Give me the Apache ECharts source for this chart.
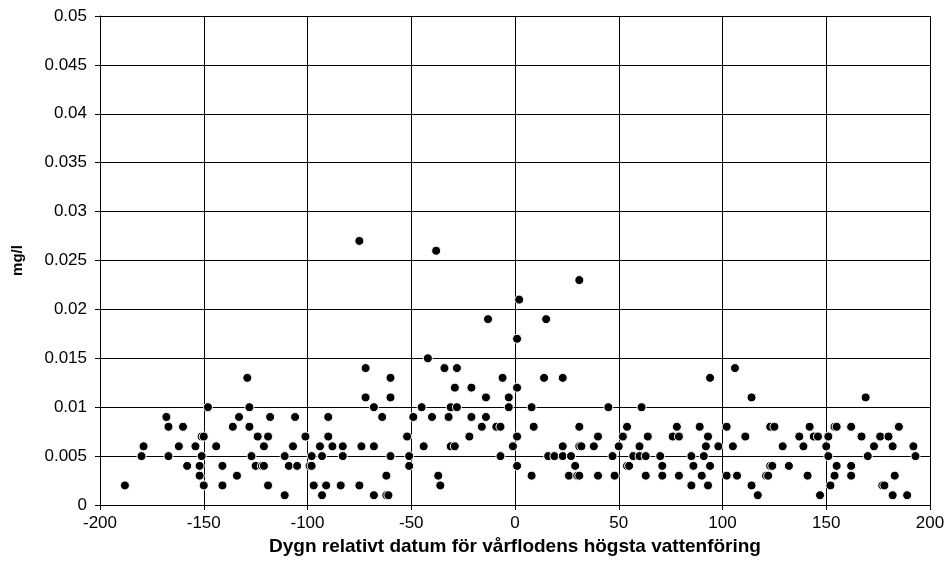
<!DOCTYPE html>
<html>
<head>
<meta charset="utf-8">
<script src="https://cdn.jsdelivr.net/npm/echarts@6/dist/echarts.min.js"></script>
<style>html,body{margin:0;padding:0;background:#fff}#c{width:950px;height:578px}</style>
</head>
<body>
<div id="c"></div>
<script>
const xTitle = 'Dygn relativt datum för vårflodens högsta vattenföring';
const yTitle = 'mg/l';
const days = [
-188,-180,-179,-168,-167,-167,-160,-162,-158,-154,-152,-152,-151,-150,-151,-150,-148,-144,-141,-141,
-134,-136,-133,-129,-128,-128,-127,-124,-125,-122,-121,-121,-119,-118,-119,-111,-111,-109,-107,-106,
-105,-101,
-99,-98,-98,-97,-94,-93,-93,-90,-90,-91,-88,-83,-83,-84,-75,-75,-74,-72,-72,-68,-68,-68,
-64,-62,-62,-61,-60,-60,-60,-52,-51,-51,-49,-45,-44,-42,-40,-38,-37,-36,-34,-32,-31,-28,
-31,-29,-29,-28,-22,-21,-21,-16,-14,-14,-13,-9,-7,-7,-6,-3,-3,-1,1,1,1,1,2,
14,15,23,31,8,9,8,16,19,23,23,27,26,29,30,31,31,31,32,38,40,40,45,47,48,50,52,54,54,55,
57,60,63,60,61,64,63,70,71,71,76,79,78,79,85,86,85,89,90,91,92,93,94,94,93,98,102,102,
106,114,169,105,111,107,114,117,121,122,123,124,123,125,129,132,137,139,141,142,144,146,147,150,
151,151,154,155,155,154,152,162,162,162,167,170,173,176,180,177,178,182,183,182,185,189,192,193
];
const conc = [
0.002,0.005,0.006,0.009,0.008,0.005,0.008,0.006,0.004,0.006,0.004,0.003,0.007,0.007,0.005,0.002,0.010,0.006,0.004,0.002,
0.003,0.008,0.009,0.013,0.010,0.008,0.005,0.007,0.004,0.004,0.004,0.006,0.007,0.009,0.002,0.005,0.001,0.004,0.006,0.009,
0.004,0.007,
0.004,0.004,0.005,0.002,0.006,0.005,0.001,0.009,0.007,0.002,0.006,0.006,0.005,0.002,0.027,0.002,0.006,0.014,0.011,0.010,0.006,0.001,
0.009,0.003,0.001,0.001,0.013,0.011,0.005,0.007,0.005,0.004,0.009,0.010,0.006,0.015,0.009,0.026,0.003,0.002,0.014,0.009,0.010,0.010,
0.006,0.006,0.012,0.014,0.007,0.012,0.009,0.008,0.011,0.009,0.019,0.008,0.008,0.005,0.013,0.011,0.010,0.006,0.007,0.004,0.012,0.017,0.021,
0.013,0.019,0.013,0.023,0.010,0.008,0.003,0.005,0.005,0.006,0.005,0.005,0.003,0.004,0.003,0.003,0.008,0.006,0.006,0.006,0.007,0.003,0.010,0.005,0.003,0.006,0.007,0.008,0.004,0.004,
0.005,0.005,0.005,0.006,0.010,0.007,0.003,0.005,0.004,0.003,0.007,0.007,0.008,0.003,0.005,0.004,0.002,0.008,0.003,0.005,0.006,0.007,0.013,0.004,0.002,0.006,0.008,0.003,
0.014,0.011,0.011,0.006,0.007,0.003,0.002,0.001,0.003,0.003,0.004,0.004,0.008,0.008,0.006,0.004,0.007,0.006,0.003,0.008,0.007,0.007,0.001,0.006,
0.007,0.005,0.008,0.008,0.004,0.003,0.002,0.008,0.004,0.003,0.007,0.005,0.006,0.007,0.007,0.002,0.002,0.006,0.003,0.001,0.008,0.001,0.006,0.005
];
const points = days.map((d, i) => [d, conc[i]]);
const font = '"Liberation Sans", Arial, sans-serif';
const chart = echarts.init(document.getElementById('c'), null, {renderer: 'canvas'});
chart.setOption({
  backgroundColor: '#fff',
  animation: false,
  grid: {left: 100, right: 20, top: 16, bottom: 73, show: false},
  xAxis: {
    type: 'value', min: -200, max: 200, interval: 50,
    name: xTitle, nameLocation: 'middle', nameGap: 31,
    nameTextStyle: {fontFamily: font, fontSize: 19, fontWeight: 'bold', color: '#000'},
    axisLine: {show: true, onZero: false, lineStyle: {color: '#000', width: 1}},
    axisTick: {show: true, length: 5, lineStyle: {color: '#000'}},
    axisLabel: {fontFamily: font, fontSize: 17, color: '#000', margin: 10},
    splitLine: {show: true, lineStyle: {color: '#000', width: 1}}
  },
  yAxis: {
    type: 'value', min: 0, max: 0.05, interval: 0.005,
    name: yTitle, nameLocation: 'middle', nameGap: 75, nameRotate: 90,
    nameTextStyle: {fontFamily: font, fontSize: 15, fontWeight: 'bold', color: '#000'},
    axisLine: {show: true, onZero: false, lineStyle: {color: '#000', width: 1}},
    axisTick: {show: true, length: 5, lineStyle: {color: '#000'}},
    axisLabel: {fontFamily: font, fontSize: 17, color: '#000', margin: 13,
      formatter: v => String(parseFloat(v.toFixed(3)))},
    splitLine: {show: true, lineStyle: {color: '#000', width: 1}}
  },
  series: [{
    type: 'scatter', data: points, symbol: 'circle', symbolSize: 9,
    itemStyle: {color: '#000', borderColor: '#fff', borderWidth: 1, opacity: 1}
  }]
});
</script>
</body>
</html>
